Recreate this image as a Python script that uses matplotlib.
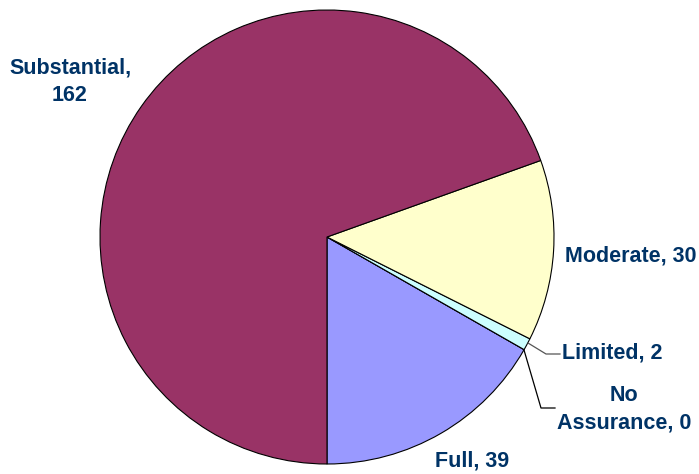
import matplotlib.pyplot as plt

# datos del gráfico
categorias = ["Full", "No Assurance", "Limited", "Moderate", "Substantial"]
valores = [39, 0, 2, 30, 162]
colores = ["#9999FF", "#FFFFFF", "#CCFFFF", "#FFFFCC", "#993366"]

W, H = 699, 474
cx, cy, r = 327, 237, 227

fig = plt.figure(figsize=(W / 100, H / 100), dpi=100)
ax = fig.add_axes([(cx - r) / W, (H - cy - r) / H, 2 * r / W, 2 * r / H])
ax.pie(valores, colors=colores, startangle=-90, counterclock=True, radius=1,
       wedgeprops=dict(edgecolor="black", linewidth=0.8))
ax.set_xlim(-1, 1)
ax.set_ylim(-1, 1)
ax.set_aspect("equal")
ax.axis("off")


def d(px, py):
    # pasar de píxeles de la imagen a coordenadas del eje
    return ((px - cx) / r, (cy - py) / r)


txt = dict(color="#003366", fontsize=15.5, fontweight="bold",
           family="Liberation Sans", ha="center", va="center",
           linespacing=1.4)

ax.text(*d(70, 82), f"{categorias[4]},\n{valores[4]}", clip_on=False, **txt)
ax.text(*d(631, 256), f"{categorias[3]}, {valores[3]}", clip_on=False, **txt)
ax.text(*d(612, 353), f"{categorias[2]}, {valores[2]}", clip_on=False, **txt)
ax.text(*d(624, 409), f"No\nAssurance, {valores[1]}", clip_on=False, **txt)
ax.text(*d(472, 461), f"{categorias[0]}, {valores[0]}", clip_on=False, **txt)

# líneas guía
p = [d(528, 343), d(546, 354), d(560, 354)]
ax.plot([q[0] for q in p], [q[1] for q in p], color="#555555", lw=0.9, clip_on=False)
p = [d(524, 350), d(541, 408), d(555, 408)]
ax.plot([q[0] for q in p], [q[1] for q in p], color="black", lw=0.9, clip_on=False)

fig.savefig("out.png", dpi=100, facecolor="white")
